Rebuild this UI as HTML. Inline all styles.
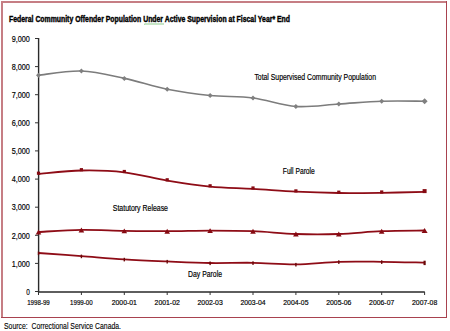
<!DOCTYPE html>
<html><head><meta charset="utf-8"><style>
html,body{margin:0;padding:0;background:#fff;}
svg{display:block;}
text{font-family:"Liberation Sans",sans-serif;fill:#000;stroke:#000;stroke-width:0.18px;}
.t{stroke-width:0.4px}
</style></head><body>
<svg width="450" height="331" viewBox="0 0 450 331">
<rect x="1" y="1" width="2" height="317" fill="#c67e84"/>
<rect x="1" y="1" width="446" height="2" fill="#c67e84"/>
<rect x="446" y="1" width="1" height="317" fill="#a8424f"/>
<rect x="1" y="317" width="446" height="1" fill="#a8424f"/>
<text class="t" x="9" y="22" font-weight="bold" font-size="8.7" textLength="281" lengthAdjust="spacingAndGlyphs">Federal Community Offender Population Under Active Supervision at Fiscal Year* End</text>
<path d="M144,24 L145,24.400000000000002 L146,23.6 L147,24.400000000000002 L148,23.6 L149,24.400000000000002 L150,23.6 L151,24.400000000000002 L152,23.6 L153,24.400000000000002 L154,23.6 L155,24.400000000000002 L156,23.6 L157,24.400000000000002 L158,23.6 L159,24.400000000000002 L160,23.6 L161,24.400000000000002 L162,23.6 L163,24.400000000000002 L164,23.6" stroke="#5cb85c" stroke-width="0.7" fill="none"/>
<path d="M38.6,38 V292 H424.8" stroke="#2a2a2a" stroke-width="1.4" fill="none"/>
<path d="M35,38.5 H38.5 M35,66.6 H38.5 M35,94.7 H38.5 M35,122.8 H38.5 M35,150.9 H38.5 M35,179.1 H38.5 M35,207.2 H38.5 M35,235.3 H38.5 M35,263.4 H38.5 M35,291.5 H38.5 M38.5,292 V295 M81.4,292 V295 M124.3,292 V295 M167.2,292 V295 M210.1,292 V295 M253.0,292 V295 M295.9,292 V295 M338.8,292 V295 M381.7,292 V295 M424.6,292 V295 " stroke="#333" stroke-width="1" fill="none"/>
<text x="29.9" y="41.7" font-size="9" text-anchor="end" textLength="18.2" lengthAdjust="spacingAndGlyphs">9,000</text>
<text x="29.9" y="69.8" font-size="9" text-anchor="end" textLength="18.2" lengthAdjust="spacingAndGlyphs">8,000</text>
<text x="29.9" y="97.9" font-size="9" text-anchor="end" textLength="18.2" lengthAdjust="spacingAndGlyphs">7,000</text>
<text x="29.9" y="126.0" font-size="9" text-anchor="end" textLength="18.2" lengthAdjust="spacingAndGlyphs">6,000</text>
<text x="29.9" y="154.1" font-size="9" text-anchor="end" textLength="18.2" lengthAdjust="spacingAndGlyphs">5,000</text>
<text x="29.9" y="182.3" font-size="9" text-anchor="end" textLength="18.2" lengthAdjust="spacingAndGlyphs">4,000</text>
<text x="29.9" y="210.4" font-size="9" text-anchor="end" textLength="18.2" lengthAdjust="spacingAndGlyphs">3,000</text>
<text x="29.9" y="238.5" font-size="9" text-anchor="end" textLength="18.2" lengthAdjust="spacingAndGlyphs">2,000</text>
<text x="29.9" y="266.6" font-size="9" text-anchor="end" textLength="18.2" lengthAdjust="spacingAndGlyphs">1,000</text>
<text x="29.9" y="294.7" font-size="9" text-anchor="end" textLength="3.6" lengthAdjust="spacingAndGlyphs">0</text>
<text x="38.5" y="305.2" font-size="7.6" text-anchor="middle" textLength="22.6" lengthAdjust="spacingAndGlyphs">1998-99</text>
<text x="81.4" y="305.2" font-size="7.6" text-anchor="middle" textLength="22.6" lengthAdjust="spacingAndGlyphs">1999-00</text>
<text x="124.3" y="305.2" font-size="7.6" text-anchor="middle" textLength="25.2" lengthAdjust="spacingAndGlyphs">2000-01</text>
<text x="167.2" y="305.2" font-size="7.6" text-anchor="middle" textLength="25.2" lengthAdjust="spacingAndGlyphs">2001-02</text>
<text x="210.1" y="305.2" font-size="7.6" text-anchor="middle" textLength="25.2" lengthAdjust="spacingAndGlyphs">2002-03</text>
<text x="253.0" y="305.2" font-size="7.6" text-anchor="middle" textLength="25.2" lengthAdjust="spacingAndGlyphs">2003-04</text>
<text x="295.9" y="305.2" font-size="7.6" text-anchor="middle" textLength="25.2" lengthAdjust="spacingAndGlyphs">2004-05</text>
<text x="338.8" y="305.2" font-size="7.6" text-anchor="middle" textLength="25.2" lengthAdjust="spacingAndGlyphs">2005-06</text>
<text x="381.7" y="305.2" font-size="7.6" text-anchor="middle" textLength="25.2" lengthAdjust="spacingAndGlyphs">2006-07</text>
<text x="424.6" y="305.2" font-size="7.6" text-anchor="middle" textLength="25.2" lengthAdjust="spacingAndGlyphs">2007-08</text>
<path d="M38.50,75.20 C45.65,74.50 67.10,70.47 81.40,71.00 C95.70,71.53 110.00,75.37 124.30,78.40 C138.60,81.43 152.90,86.35 167.20,89.20 C181.50,92.05 195.80,94.03 210.10,95.50 C224.40,96.97 238.70,96.17 253.00,98.00 C267.30,99.83 281.60,105.50 295.90,106.50 C310.20,107.50 324.50,104.88 338.80,104.00 C353.10,103.12 367.40,101.67 381.70,101.20 C396.00,100.73 417.45,101.20 424.60,101.20" stroke="#7c7c7c" stroke-width="1.6" fill="none"/>
<path d="M36.0,75.2 L38.5,72.7 L41.0,75.2 L38.5,77.7Z" fill="#808080"/>
<path d="M78.9,71.0 L81.4,68.5 L83.9,71.0 L81.4,73.5Z" fill="#808080"/>
<path d="M121.8,78.4 L124.3,75.9 L126.8,78.4 L124.3,80.9Z" fill="#808080"/>
<path d="M164.7,89.2 L167.2,86.7 L169.7,89.2 L167.2,91.7Z" fill="#808080"/>
<path d="M207.6,95.5 L210.1,93.0 L212.6,95.5 L210.1,98.0Z" fill="#808080"/>
<path d="M250.5,98.0 L253.0,95.5 L255.5,98.0 L253.0,100.5Z" fill="#808080"/>
<path d="M293.4,106.5 L295.9,104.0 L298.4,106.5 L295.9,109.0Z" fill="#808080"/>
<path d="M336.3,104.0 L338.8,101.5 L341.3,104.0 L338.8,106.5Z" fill="#808080"/>
<path d="M379.2,101.2 L381.7,98.7 L384.2,101.2 L381.7,103.7Z" fill="#808080"/>
<path d="M421.6,101.2 L424.6,98.2 L427.6,101.2 L424.6,104.2Z" fill="#808080"/>
<path d="M38.50,174.00 C45.65,173.42 67.10,170.78 81.40,170.50 C95.70,170.22 110.00,170.62 124.30,172.30 C138.60,173.98 152.90,178.22 167.20,180.60 C181.50,182.98 195.80,185.23 210.10,186.60 C224.40,187.97 238.70,187.95 253.00,188.80 C267.30,189.65 281.60,191.00 295.90,191.70 C310.20,192.40 324.50,192.82 338.80,193.00 C353.10,193.18 367.40,192.98 381.70,192.80 C396.00,192.62 417.45,192.05 424.60,191.90" stroke="#8e0c16" stroke-width="1.8" fill="none"/>
<rect x="36.9" y="171.6" width="3.2" height="3.2" fill="#860a12"/>
<rect x="79.8" y="168.1" width="3.2" height="3.2" fill="#860a12"/>
<rect x="122.7" y="169.9" width="3.2" height="3.2" fill="#860a12"/>
<rect x="165.6" y="178.2" width="3.2" height="3.2" fill="#860a12"/>
<rect x="208.5" y="184.2" width="3.2" height="3.2" fill="#860a12"/>
<rect x="251.4" y="186.4" width="3.2" height="3.2" fill="#860a12"/>
<rect x="294.3" y="189.3" width="3.2" height="3.2" fill="#860a12"/>
<rect x="337.2" y="190.6" width="3.2" height="3.2" fill="#860a12"/>
<rect x="380.1" y="190.4" width="3.2" height="3.2" fill="#860a12"/>
<rect x="422.6" y="189.1" width="4.0" height="4.0" fill="#860a12"/>
<path d="M38.50,232.00 C45.65,231.65 67.10,230.10 81.40,229.90 C95.70,229.70 110.00,230.58 124.30,230.80 C138.60,231.02 152.90,231.23 167.20,231.20 C181.50,231.17 195.80,230.60 210.10,230.60 C224.40,230.60 238.70,230.63 253.00,231.20 C267.30,231.77 281.60,233.53 295.90,234.00 C310.20,234.47 324.50,234.47 338.80,234.00 C353.10,233.53 367.40,231.78 381.70,231.20 C396.00,230.62 417.45,230.62 424.60,230.50" stroke="#8e0c16" stroke-width="1.8" fill="none"/>
<path d="M35.7,234.5 L38.5,229.6 L41.3,234.5Z" fill="#860a12"/>
<path d="M78.6,232.4 L81.4,227.5 L84.2,232.4Z" fill="#860a12"/>
<path d="M121.5,233.3 L124.3,228.4 L127.1,233.3Z" fill="#860a12"/>
<path d="M164.4,233.7 L167.2,228.8 L170.0,233.7Z" fill="#860a12"/>
<path d="M207.3,233.1 L210.1,228.2 L212.9,233.1Z" fill="#860a12"/>
<path d="M250.2,233.7 L253.0,228.8 L255.8,233.7Z" fill="#860a12"/>
<path d="M293.1,236.5 L295.9,231.6 L298.7,236.5Z" fill="#860a12"/>
<path d="M336.0,236.5 L338.8,231.6 L341.6,236.5Z" fill="#860a12"/>
<path d="M378.9,233.7 L381.7,228.8 L384.5,233.7Z" fill="#860a12"/>
<path d="M421.6,233.0 L424.6,228.1 L427.6,233.0Z" fill="#860a12"/>
<path d="M38.50,253.00 C45.65,253.52 67.10,255.05 81.40,256.10 C95.70,257.15 110.00,258.42 124.30,259.30 C138.60,260.18 152.90,260.78 167.20,261.40 C181.50,262.02 195.80,262.77 210.10,263.00 C224.40,263.23 238.70,262.57 253.00,262.80 C267.30,263.03 281.60,264.57 295.90,264.40 C310.20,264.23 324.50,262.23 338.80,261.80 C353.10,261.37 367.40,261.67 381.70,261.80 C396.00,261.93 417.45,262.47 424.60,262.60" stroke="#8e0c16" stroke-width="1.8" fill="none"/>
<rect x="37.8" y="251.5" width="1.4" height="3.6" fill="#6a0808"/>
<rect x="80.7" y="254.6" width="1.4" height="3.6" fill="#6a0808"/>
<rect x="123.6" y="257.8" width="1.4" height="3.6" fill="#6a0808"/>
<rect x="166.5" y="259.9" width="1.4" height="3.6" fill="#6a0808"/>
<rect x="209.4" y="261.5" width="1.4" height="3.6" fill="#6a0808"/>
<rect x="252.3" y="261.3" width="1.4" height="3.6" fill="#6a0808"/>
<rect x="295.2" y="262.9" width="1.4" height="3.6" fill="#6a0808"/>
<rect x="338.1" y="260.3" width="1.4" height="3.6" fill="#6a0808"/>
<rect x="381.0" y="260.3" width="1.4" height="3.6" fill="#6a0808"/>
<rect x="423.5" y="260.7" width="2.2" height="4.4" fill="#6a0808"/>
<text x="254.4" y="79.6" font-size="8.2" textLength="121.6" lengthAdjust="spacingAndGlyphs">Total Supervised Community Population</text>
<text x="282.8" y="173.8" font-size="8.2" textLength="32" lengthAdjust="spacingAndGlyphs">Full Parole</text>
<text x="112.8" y="211.2" font-size="8.2" textLength="55.2" lengthAdjust="spacingAndGlyphs">Statutory Release</text>
<text x="188" y="277.3" font-size="8.2" textLength="34" lengthAdjust="spacingAndGlyphs">Day Parole</text>
<text x="4" y="328.8" font-size="8.3" style="stroke-width:0.12px" textLength="117" lengthAdjust="spacingAndGlyphs">Source:&#160; Correctional Service Canada.</text>
</svg></body></html>
